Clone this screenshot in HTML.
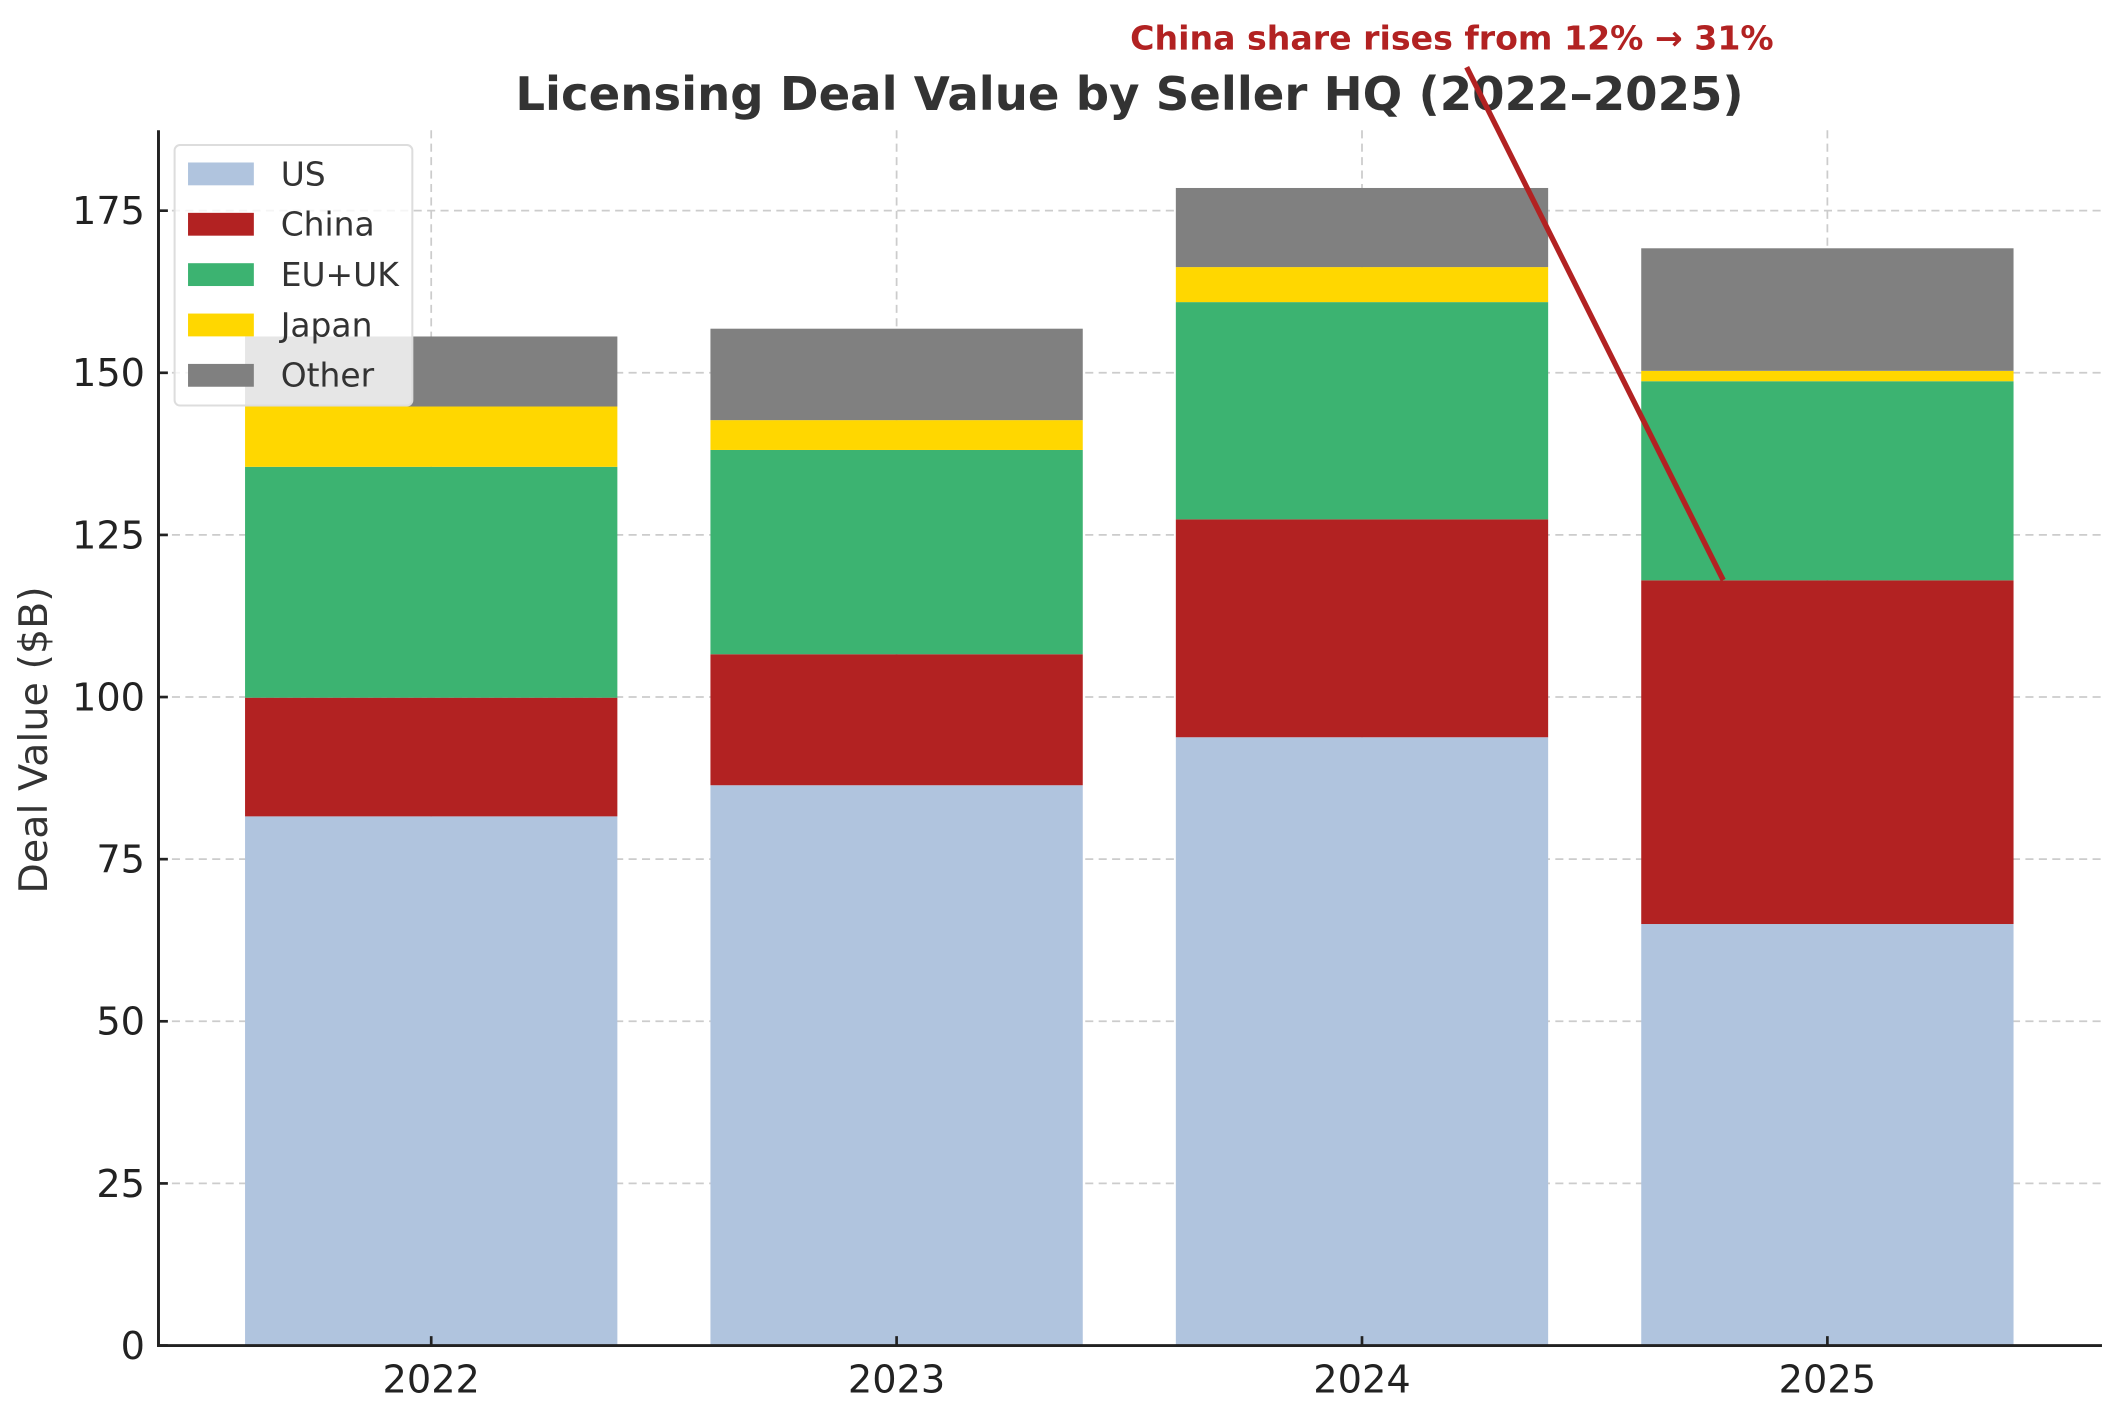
<!DOCTYPE html>
<html><head><meta charset="utf-8"><style>
html,body{margin:0;padding:0;background:#fff;}
svg{display:block;font-family:"DejaVu Sans","Liberation Sans",sans-serif;}
</style></head><body>
<svg id="chart" width="2106" height="1410" viewBox="0 0 1568 1050" preserveAspectRatio="none" xmlns="http://www.w3.org/2000/svg">
<g id="grid"></g>
<g id="bars"></g>
<g id="axes"></g>
<text x="841" y="82" text-anchor="middle" font-size="34.7" font-weight="bold" fill="#333">Licensing Deal Value by Seller HQ (2022–2025)</text>
<text transform="translate(35,551) rotate(-90)" text-anchor="middle" font-size="29.5" fill="#333">Deal Value ($B)</text>
<line x1="1092" y1="50" x2="1283" y2="432" stroke="#b22222" stroke-width="4"/>
<text x="1081" y="37" text-anchor="middle" font-size="24.7" font-weight="bold" fill="#b22222">China share rises from 12% → 31%</text>
<g id="legend"></g>
</svg>
<script>
const years = ["2022","2023","2024","2025"];
const seriesNames = ["US","China","EU+UK","Japan","Other"];
const usVals = [81.6, 86.4, 93.8, 65.0];
const chinaVals = [18.3, 20.2, 33.6, 53.0];
const euVals = [35.6, 31.5, 33.5, 30.7];
const japanVals = [9.3, 4.6, 5.4, 1.6];
const otherVals = [10.8, 14.1, 12.2, 18.9];
const yTicks = [0,25,50,75,100,125,150,175];

const colors = ["#b0c4de","#b22222","#3cb371","#ffd700","#808080"];
const allSeries = [usVals, chinaVals, euVals, japanVals, otherVals];
const NS = "http://www.w3.org/2000/svg";
const L = 118, R = 1565, T = 97, B = 1002;
const yMax = 187.4, xMin = -0.586, xMax = 3.59;
const y = v => B - v / yMax * (B - T);
const x = i => L + (i - xMin) / (xMax - xMin) * (R - L);
const bw = 0.8 * (x(1) - x(0));
function mk(tag, attrs, parent){const e=document.createElementNS(NS,tag);for(const k in attrs)e.setAttribute(k,attrs[k]);parent.appendChild(e);return e;}
const grid=document.getElementById('grid'), bars=document.getElementById('bars'), axes=document.getElementById('axes'), legend=document.getElementById('legend');
yTicks.forEach(t=>{
  const g=mk('line',{x1:L,x2:R,y1:y(t),y2:y(t),stroke:'#ccc','stroke-width':1.3,'stroke-dasharray':'6,4'},grid);
  
  
  const tk=mk('line',{x1:L,x2:L+7,y1:y(t),y2:y(t),stroke:'#222','stroke-width':2},axes);
  
  
  const tx=mk('text',{x:L-10,y:y(t)+10,'text-anchor':'end','font-size':28.5,fill:'#222'},axes);
  tx.textContent=t;
  
  
});
years.forEach((yr,i)=>{
  const g=mk('line',{x1:x(i),x2:x(i),y1:T,y2:B,stroke:'#ccc','stroke-width':1.3,'stroke-dasharray':'6,4'},grid);
  
  
  let base=0;
  allSeries.forEach((s,si)=>{
    const r=mk('rect',{x:x(i)-bw/2,y:y(base+s[i]),width:bw,height:y(base)-y(base+s[i]),fill:colors[si]},bars);
    
    
    base+=s[i];
  });
  const tk=mk('line',{x1:x(i),x2:x(i),y1:B-7,y2:B,stroke:'#222','stroke-width':2},axes);
  
  
  const tx=mk('text',{x:x(i),y:B+35,'text-anchor':'middle','font-size':28.5,fill:'#222'},axes);
  tx.textContent=yr;
  
  
});
const al=mk('line',{x1:L,x2:L,y1:T,y2:B+1,stroke:'#222','stroke-width':2.2},axes);


const bl=mk('line',{x1:L-1,x2:R,y1:B,y2:B,stroke:'#222','stroke-width':2.2},axes);


const box=mk('rect',{x:130,y:108,width:177,height:194,rx:4,fill:'rgba(255,255,255,0.8)',stroke:'#ddd','stroke-width':1.5},legend);


seriesNames.forEach((n,i)=>{
  const cy=129+i*37.5;
  const sw=mk('rect',{x:140,y:cy-8,width:49,height:17,fill:colors[i]},legend);
  
  
  const t=mk('text',{x:209,y:cy+9,'font-size':24.5,fill:'#333'},legend);
  t.textContent=n;
  
  
});
</script>
</body></html>
